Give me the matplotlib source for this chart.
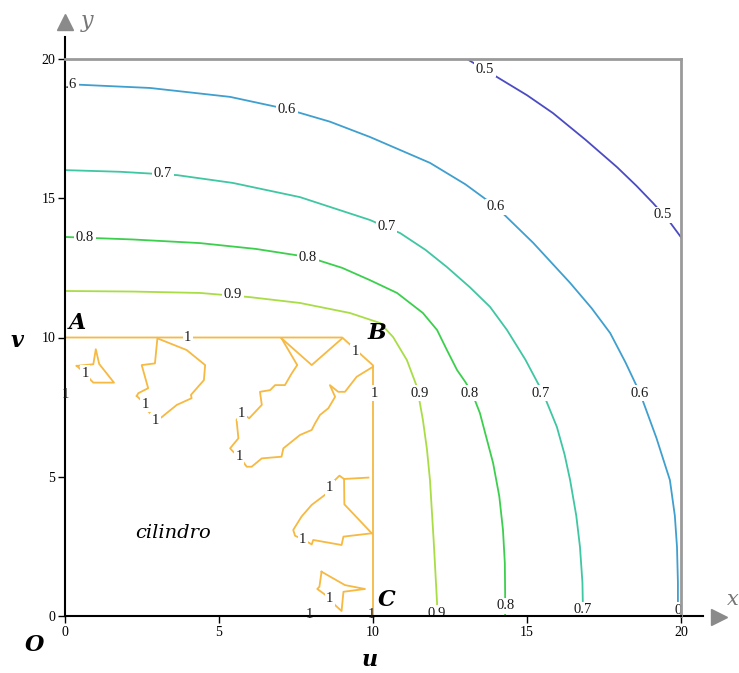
import matplotlib.pyplot as plt

# Equipotential lines around the square cylinder (quarter domain)
levels = [0.5, 0.6, 0.7, 0.8, 0.9, 1.0]
level_colors = ['#4b4bc4', '#3f9fcf', '#3fc6a2', '#3ccf4e', '#a9dd45', '#f6b942']

c05_x = [13.05, 14.03, 15.0, 15.84, 16.9, 17.92, 18.55, 19.09, 19.6, 20.0]
c05_y = [20.0, 19.35, 18.7, 18.06, 17.1, 16.12, 15.45, 14.83, 14.2, 13.6]

c06_x = [0.0, 2.76, 5.36, 7.21, 8.6, 9.90, 11.85, 13.0, 14.0, 15.2, 16.4, 17.1, 17.7,
         18.2, 18.67, 19.2, 19.64, 19.8, 19.87, 19.9, 19.9]
c06_y = [19.1, 18.96, 18.64, 18.2, 17.75, 17.2, 16.27, 15.5, 14.69, 13.4, 11.96, 11.05,
         10.16, 9.1, 8.0, 6.4, 4.88, 3.6, 2.48, 1.2, 0.0]

c07_x = [0.0, 1.8, 3.64, 5.45, 7.63, 9.90, 10.88, 11.7, 12.40, 13.15, 13.80, 14.35,
         14.95, 15.52, 15.97, 16.22, 16.40, 16.6, 16.72, 16.8, 16.82]
c07_y = [16.01, 15.95, 15.83, 15.55, 15.04, 14.22, 13.75, 13.15, 12.53, 11.8, 11.10,
         10.27, 9.2, 8.01, 6.79, 5.8, 4.88, 3.6, 2.48, 1.2, 0.0]

c08_x = [0.0, 2.2, 4.38, 6.2, 7.89, 9.0, 9.90, 10.78, 11.62, 12.08, 12.40, 12.73, 13.0,
         13.22, 13.47, 13.90, 14.1, 14.22, 14.28, 14.29, 14.29]
c08_y = [13.61, 13.52, 13.39, 13.18, 12.89, 12.5, 12.06, 11.60, 10.88, 10.27, 9.55, 8.83,
         8.4, 8.0, 7.29, 5.49, 4.3, 3.09, 1.9, 0.83, 0.0]

c09_x = [0.0, 2.2, 4.38, 6.0, 7.63, 9.25, 10.23, 10.65, 11.10, 11.43, 11.62, 11.75,
         11.85, 11.97, 12.08, 12.08]
c09_y = [11.67, 11.65, 11.60, 11.45, 11.24, 10.88, 10.52, 10.02, 9.19, 8.22, 7.04, 6.0,
         4.88, 2.7, 0.47, 0.0]

# level 1 = cylinder surface and the noisy pieces inside it
c1_edge_x = [0, 0, 9, 10, 10, 0]
c1_edge_y = [0, 10, 10, 9, 0, 0]

c1_a_x = [0.38, 0.92, 1.00, 1.11, 1.59, 0.92, 0.84, 0.65, 0.38]
c1_a_y = [8.98, 9.04, 9.58, 9.05, 8.38, 8.38, 8.47, 8.72, 8.98]

c1_b_x = [2.33, 2.38, 2.70, 2.49, 2.92, 3.00, 3.95, 4.55, 4.51, 4.09, 4.11, 3.63, 3.14,
          2.94, 2.82, 2.63, 2.60, 2.33]
c1_b_y = [7.90, 8.00, 8.18, 9.01, 9.07, 9.97, 9.55, 9.01, 8.47, 7.94, 7.82, 7.58, 7.14,
          7.01, 7.22, 7.43, 7.61, 7.90]

c1_c_x = [7.03, 7.54, 7.36, 7.14, 6.82, 6.66, 6.33, 6.39, 5.98, 5.74, 5.57, 5.63, 5.36,
          5.46, 5.66, 5.90, 6.06, 6.39, 7.03, 7.09, 7.63, 8.01, 8.12, 8.28, 8.55, 8.77,
          8.60, 8.87, 9.09, 9.47, 10.0]
c1_c_y = [9.97, 9.01, 8.71, 8.29, 8.29, 8.11, 8.05, 7.58, 7.10, 7.28, 7.04, 6.38, 6.02,
          5.90, 5.72, 5.36, 5.36, 5.66, 5.72, 6.02, 6.50, 6.68, 6.92, 7.22, 7.46, 7.87,
          8.29, 8.05, 8.05, 8.59, 8.95]

c1_d_x = [7.03, 8.01, 9.0]
c1_d_y = [9.97, 9.01, 9.97]

c1_e_x = [9.85, 9.06, 8.91, 8.71, 8.60, 8.50, 8.01, 7.68, 7.41, 7.47, 7.72, 8.01, 8.06,
          8.98, 9.04, 9.96]
c1_e_y = [4.97, 4.92, 5.04, 4.82, 4.61, 4.40, 3.99, 3.57, 3.09, 2.88, 2.76, 2.57, 2.73,
          2.55, 2.85, 2.97]

c1_f_x = [9.06, 9.07, 9.96]
c1_f_y = [4.92, 4.01, 2.97]

c1_g_x = [8.33, 8.26, 8.19, 8.39, 8.60, 8.77, 8.98, 9.04, 9.74, 9.09, 8.33]
c1_g_y = [1.59, 1.05, 0.97, 0.81, 0.64, 0.39, 0.18, 0.87, 0.97, 1.11, 1.59]

serif = 'Liberation Serif'

fig = plt.figure(figsize=(7.39, 6.73), dpi=100)
ax = fig.add_axes([65 / 739, 1 - 616 / 673, 616 / 739, 557 / 673])
ax.set_xlim(0, 20)
ax.set_ylim(0, 20)

lw = 1.3
ax.plot(c05_x, c05_y, color=level_colors[0], lw=lw)
ax.plot(c06_x, c06_y, color=level_colors[1], lw=lw)
ax.plot(c07_x, c07_y, color=level_colors[2], lw=lw)
ax.plot(c08_x, c08_y, color=level_colors[3], lw=lw)
ax.plot(c09_x, c09_y, color=level_colors[4], lw=lw)
for xs, ys in [(c1_edge_x, c1_edge_y), (c1_a_x, c1_a_y), (c1_b_x, c1_b_y),
               (c1_c_x, c1_c_y), (c1_d_x, c1_d_y), (c1_e_x, c1_e_y),
               (c1_f_x, c1_f_y), (c1_g_x, c1_g_y)]:
    ax.plot(xs, ys, color=level_colors[5], lw=lw)

# inline level labels
label_spots = {
    0.5: [(13.64, 19.64), (19.42, 14.4)],
    0.6: [(0.1, 19.07), (7.21, 18.2), (13.99, 14.69), (18.67, 8.0), (20.1, 0.2)],
    0.7: [(3.18, 15.9), (10.45, 14.0), (15.45, 8.0), (16.82, 0.22)],
    0.8: [(0.65, 13.6), (7.89, 12.89), (13.15, 8.0), (14.29, 0.36)],
    0.9: [(5.45, 11.53), (11.53, 8.0), (12.08, 0.1)],
    1.0: [(3.99, 10.0), (9.42, 9.48), (10.03, 8.0), (0.65, 8.72), (2.6, 7.61),
          (2.94, 7.01), (5.74, 7.28), (5.66, 5.72), (8.60, 4.61), (7.72, 2.76),
          (8.60, 0.64)],
}
box = dict(boxstyle='square,pad=0.1', fc='white', ec='none')
for lev, spots in label_spots.items():
    txt = '1' if lev == 1.0 else f'{lev:.1f}'
    for x, y in spots:
        ax.text(x, y, txt, ha='center', va='center', fontsize=10.5, family=serif,
                color='#1a1a1a', bbox=box, zorder=2.2, clip_on=True)
# labels sitting on the axes themselves
for x, y in [(0.0, 7.94), (7.95, 0.05), (9.96, 0.05)]:
    ax.text(x, y, '1', ha='center', va='center', fontsize=10.5, family=serif,
            color='#1a1a1a', zorder=3, clip_on=False)

# frame: black axes on the left/bottom, grey box on top/right
for side in ['left', 'bottom']:
    ax.spines[side].set_color('black')
    ax.spines[side].set_linewidth(1.5)
for side in ['top', 'right']:
    ax.spines[side].set_color('#9a9a9a')
    ax.spines[side].set_linewidth(2)

ax.set_xticks([0, 5, 10, 15, 20])
ax.set_yticks([0, 5, 10, 15, 20])
ax.tick_params(direction='out', length=5, width=1, labelsize=10, pad=2)
for lab in ax.get_xticklabels() + ax.get_yticklabels():
    lab.set_family(serif)

# axis arrows
ax.plot([0, 0], [1.0, 1.04], transform=ax.transAxes, color='black', lw=1.5, clip_on=False)
ax.plot([1.0, 1.036], [0, 0], transform=ax.transAxes, color='black', lw=1.5, clip_on=False)
ax.plot([0], [1.066], transform=ax.transAxes, marker='^', ms=11, color='#8a8a8a',
        clip_on=False)
ax.plot([1.062], [-0.002], transform=ax.transAxes, marker='>', ms=11, color='#8a8a8a',
        clip_on=False)
ax.text(0.036, 1.068, 'y', transform=ax.transAxes, ha='center', va='center',
        fontsize=16, family='DejaVu Serif', style='italic', color='#777777')
ax.text(1.084, 0.029, 'x', transform=ax.transAxes, ha='center', va='center',
        fontsize=15, family='DejaVu Serif', style='italic', color='#777777')

# point names and coordinate letters
letter = dict(fontsize=16, family='DejaVu Serif', style='italic', weight='bold',
              ha='center', va='center')
ax.text(0.39, 10.52, 'A', **letter)
ax.text(10.13, 10.16, 'B', **letter)
ax.text(10.45, 0.57, 'C', **letter, clip_on=False)
ax.text(-0.049, -0.052, 'O', transform=ax.transAxes, **letter)
ax.text(0.495, -0.079, 'u', transform=ax.transAxes, **letter)
ax.text(-0.078, 0.494, 'v', transform=ax.transAxes, **letter)
ax.text(3.51, 2.98, 'cilindro', fontsize=14, family='DejaVu Serif', style='italic',
        ha='center', va='center')

fig.savefig('out.png', dpi=100)
